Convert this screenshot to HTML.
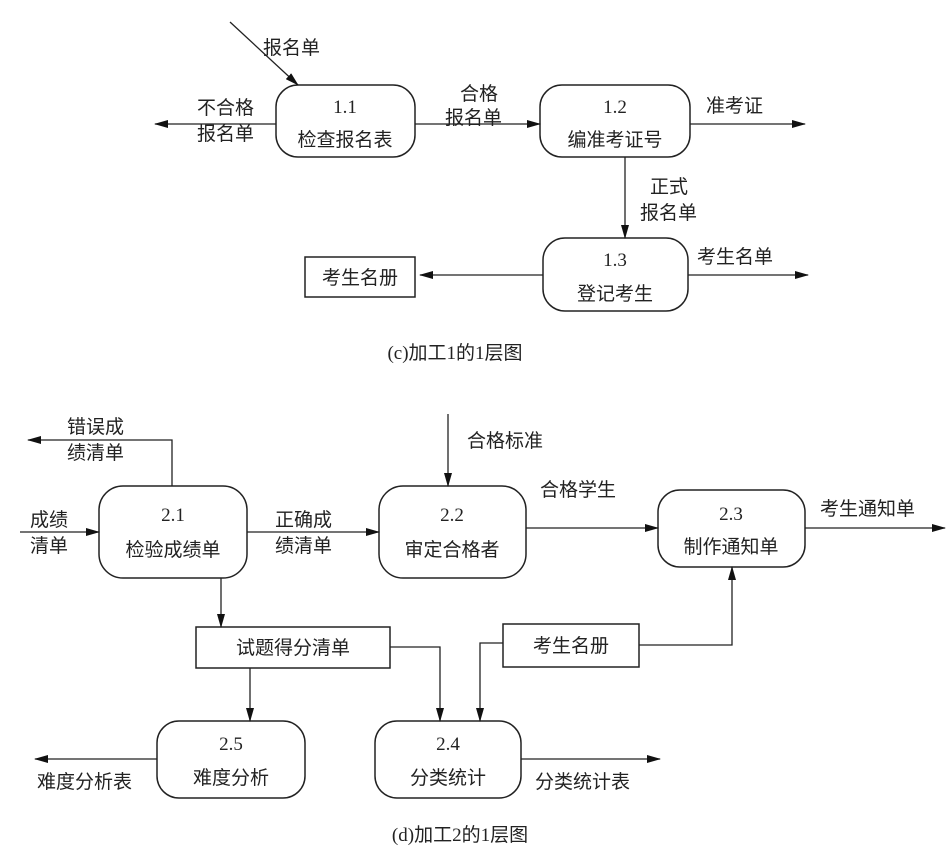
<!DOCTYPE html>
<html><head><meta charset="utf-8"><style>
body{margin:0;background:#fff}
svg text{font-family:"Liberation Serif","Noto Sans CJK SC",serif;font-size:19px;fill:#222}
</style></head><body>
<svg width="952" height="861" viewBox="0 0 952 861" xmlns="http://www.w3.org/2000/svg">
<defs><marker id="a" markerWidth="14" markerHeight="8" refX="13" refY="4" orient="auto" markerUnits="userSpaceOnUse"><path d="M0,0 L14,4 L0,8 z" fill="#111"/></marker></defs>
<g fill="none" stroke="#222" stroke-width="1.5">
<rect x="276" y="85" width="139" height="72" rx="22"/>
<rect x="540" y="85" width="150" height="72" rx="22"/>
<rect x="543" y="238" width="145" height="73" rx="22"/>
<rect x="305" y="257" width="110" height="40"/>
<rect x="99" y="486" width="148" height="92" rx="24"/>
<rect x="379" y="486" width="147" height="92" rx="24"/>
<rect x="658" y="490" width="147" height="77" rx="22"/>
<rect x="196" y="627" width="194" height="41"/>
<rect x="503" y="624" width="136" height="43"/>
<rect x="157" y="721" width="148" height="77" rx="22"/>
<rect x="375" y="721" width="146" height="77" rx="22"/>
</g>
<g fill="none" stroke="#222" stroke-width="1.3" marker-end="url(#a)">
<path d="M230,22 L298,85"/>
<path d="M276,124 H155"/>
<path d="M415,124 H540"/>
<path d="M690,124 H805"/>
<path d="M625,157 V238"/>
<path d="M543,275 H420"/>
<path d="M688,275 H808"/>
<path d="M172,486 V440 H28"/>
<path d="M20,532 H99"/>
<path d="M247,532 H379"/>
<path d="M448,414 V486"/>
<path d="M526,528 H658"/>
<path d="M805,528 H945"/>
<path d="M221,578 V627"/>
<path d="M250,668 V721"/>
<path d="M390,647 H440 V721"/>
<path d="M503,643 H480 V721"/>
<path d="M639,645 H732 V567"/>
<path d="M157,759 H35"/>
<path d="M521,759 H660"/>
</g>
<g text-anchor="middle">
<text x="345" y="113">1.1</text><text x="345" y="146">检查报名表</text>
<text x="615" y="113">1.2</text><text x="615" y="146">编准考证号</text>
<text x="615" y="266">1.3</text><text x="615" y="300">登记考生</text>
<text x="360" y="284">考生名册</text>
<text x="455" y="359" font-size="17">(c)加工1的1层图</text>
<text x="173" y="521">2.1</text><text x="173" y="556">检验成绩单</text>
<text x="452" y="521">2.2</text><text x="452" y="556">审定合格者</text>
<text x="731" y="520">2.3</text><text x="731" y="553">制作通知单</text>
<text x="293" y="654">试题得分清单</text>
<text x="571" y="652">考生名册</text>
<text x="231" y="750">2.5</text><text x="231" y="784">难度分析</text>
<text x="448" y="750">2.4</text><text x="448" y="784">分类统计</text>
<text x="460" y="841" font-size="17">(d)加工2的1层图</text>
</g>
<text x="263" y="54">报名单</text>
<text x="197" y="114">不合格</text><text x="197" y="140">报名单</text>
<text x="460" y="100">合格</text><text x="445" y="124">报名单</text>
<text x="706" y="112">准考证</text>
<text x="650" y="193">正式</text><text x="640" y="219">报名单</text>
<text x="697" y="263">考生名单</text>
<text x="67" y="433">错误成</text><text x="67" y="459">绩清单</text>
<text x="30" y="526">成绩</text><text x="30" y="552">清单</text>
<text x="275" y="526">正确成</text><text x="275" y="552">绩清单</text>
<text x="467" y="447">合格标准</text>
<text x="540" y="496">合格学生</text>
<text x="820" y="515">考生通知单</text>
<text x="37" y="788">难度分析表</text>
<text x="535" y="788">分类统计表</text>
</svg>
</body></html>
